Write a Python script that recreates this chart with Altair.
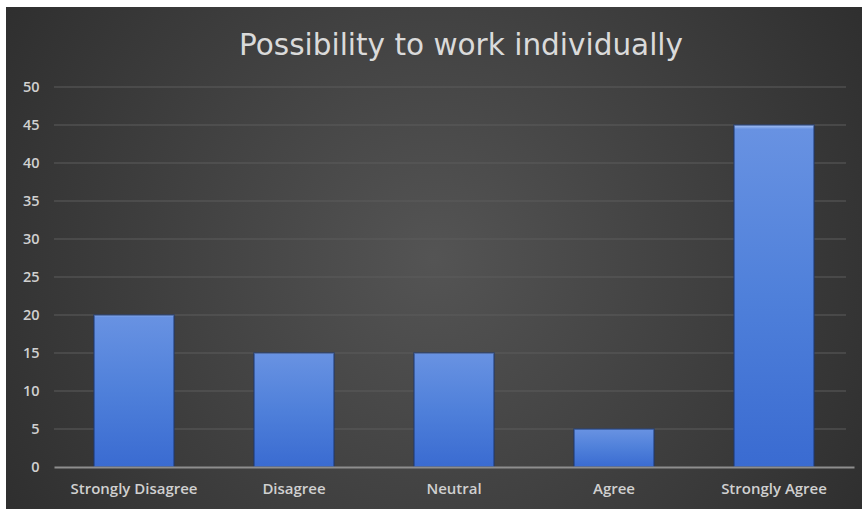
import altair as alt
import pandas as pd

categories = ["Strongly Disagree", "Disagree", "Neutral", "Agree", "Strongly Agree"]
values = [20, 15, 15, 5, 45]
y_ticks = [0, 5, 10, 15, 20, 25, 30, 35, 40, 45, 50]
title_text = "Possibility to work individually"

bars_df = pd.DataFrame({"category": categories, "value": values})
grid_df = pd.DataFrame({"tick": y_ticks[1:]})
bg_df = pd.DataFrame({"a": [0]})
title_df = pd.DataFrame({"t": [title_text]})

W, H = 800, 380
FONT = "Open Sans"
LABEL = "#d0d0d0"

y_scale = alt.Scale(domain=[0, 50], nice=False)
y_axis = alt.Axis(values=y_ticks, grid=False, domain=False, ticks=False,
                  labelPadding=15, labelColor=LABEL, labelFontSize=14.5,
                  labelFontWeight=600, labelFont=FONT, title=None, zindex=1)

bg = alt.Chart(bg_df).mark_rect(
    fill=alt.RadialGradient(
        gradient="radial", x1=0.5, y1=0.5, r1=0, x2=0.5, y2=0.5, r2=0.72,
        stops=[alt.GradientStop(offset=0, color="#545454"),
               alt.GradientStop(offset=1, color="#262626")]
    )
).encode(x=alt.value(-48), x2=alt.value(W + 8), y=alt.value(-80), y2=alt.value(H + 42))

title = alt.Chart(title_df).mark_text(
    font="DejaVu Sans", fontSize=29.5, color="#dadada", align="center", baseline="alphabetic"
).encode(text="t:N", x=alt.value(407), y=alt.value(-32))

grid = alt.Chart(grid_df).mark_rule(color="#5c5c5c", strokeWidth=1).encode(
    y=alt.Y("tick:Q", scale=y_scale, axis=y_axis),
    x=alt.value(0), x2=alt.value(W - 8)
)

bars = alt.Chart(bars_df).mark_bar(
    fill=alt.LinearGradient(
        gradient="linear", x1=0, y1=0, x2=0, y2=1,
        stops=[alt.GradientStop(offset=0, color="#a9c4f4"),
               alt.GradientStop(offset=0.012, color="#6892e2"),
               alt.GradientStop(offset=0.5, color="#4f80da"),
               alt.GradientStop(offset=1, color="#3a6bd1")]
    ),
    stroke="#1f3a70", strokeWidth=1.5, strokeOpacity=0.7
).encode(
    x=alt.X("category:N", sort=categories,
            scale=alt.Scale(paddingInner=0.5, paddingOuter=0.25),
            axis=alt.Axis(title=None, labelAngle=0, labelColor=LABEL, labelFontSize=15,
                          labelFontWeight=600, labelFont=FONT, labelPadding=14, ticks=False,
                          domain=True, domainColor="#8e8e8e", domainWidth=2, grid=False,
                          zindex=1)),
    y=alt.Y("value:Q", scale=y_scale, axis=y_axis)
)

chart = alt.layer(bg, title, grid, bars).properties(
    width=W, height=H,
    padding={"left": 54, "top": 87, "right": 8, "bottom": 42},
    autosize=alt.AutoSizeParams(type="none"),
    background="white"
).configure_view(stroke=None)

chart.save("out.html", embed_options={"renderer": "svg", "actions": False})
